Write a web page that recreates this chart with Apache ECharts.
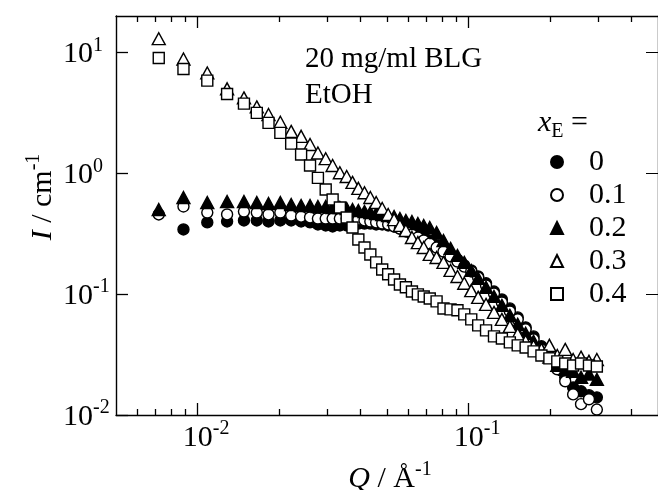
<!DOCTYPE html>
<html>
<head>
<meta charset="utf-8">
<script src="https://cdn.jsdelivr.net/npm/echarts@6/dist/echarts.min.js"></script>
<style>html,body{margin:0;padding:0;background:#fff;}#c{width:658px;height:490px;}</style>
</head>
<body>
<div id="c"></div>
<script>
// Scattering vector Q (1/Å)
const Q = [0.00719, 0.00887, 0.01086, 0.01285, 0.01483, 0.01654, 0.01827, 0.0202, 0.02215, 0.0241,
  0.026, 0.0278, 0.0297, 0.0315, 0.0335, 0.0355, 0.0373, 0.0392, 0.0413, 0.0434,
  0.0456, 0.048, 0.0505, 0.0531, 0.0558, 0.0587, 0.0618, 0.065, 0.0683, 0.0719,
  0.0762, 0.0808, 0.0858, 0.091, 0.0964, 0.1023, 0.1085, 0.116, 0.1241, 0.1327,
  0.142, 0.1518, 0.1624, 0.1737, 0.1857, 0.1987, 0.2125, 0.2273, 0.2431, 0.26,
  0.2781, 0.2974];
// Intensity I (1/cm) for each x_E
const I_0 = [null, 0.343, 0.392, 0.399, 0.407, 0.407, 0.399, 0.407, 0.407, 0.399,
  0.392, 0.377, 0.370, 0.363, 0.370, 0.370, 0.377, 0.384, 0.384, 0.384,
  0.377, 0.377, 0.370, 0.363, 0.349, 0.343, 0.330, 0.318, 0.300, 0.278,
  0.258, 0.234, 0.213, 0.193, 0.173, 0.157, 0.140, 0.123, 0.105, 0.0903,
  0.0762, 0.0642, 0.0531, 0.0447, 0.0370, 0.0306, 0.0248, 0.0205, 0.0169, 0.0157,
  0.0146, 0.0140];
const I_01 = [0.456, 0.531, 0.473, 0.456, 0.482, 0.473, 0.456, 0.473, 0.447, 0.438,
  0.431, 0.422, 0.422, 0.422, 0.422, 0.422, 0.422, 0.414, 0.407, 0.399,
  0.392, 0.384, 0.377, 0.363, 0.349, 0.330, 0.311, 0.294, 0.278, 0.262,
  0.243, 0.225, 0.205, 0.186, 0.169, 0.154, 0.137, 0.118, 0.101, 0.0853,
  0.0719, 0.0618, 0.0511, 0.0422, 0.0349, 0.0301, 0.0239, 0.0190, 0.0148, 0.0123,
  0.0135, 0.0111];
const I_02 = [0.501, 0.630, 0.573, 0.584, 0.584, 0.573, 0.562, 0.573, 0.551, 0.540,
  0.540, 0.531, 0.531, 0.521, 0.521, 0.511, 0.501, 0.492, 0.482, 0.473,
  0.464, 0.456, 0.447, 0.438, 0.422, 0.407, 0.399, 0.384, 0.370, 0.356,
  0.323, 0.278, 0.239, 0.209, 0.183, 0.157, 0.135, 0.114, 0.0957, 0.0807,
  0.0667, 0.0562, 0.0474, 0.0407, 0.0349, 0.0301, 0.0257, 0.0239, 0.0230, 0.0205,
  0.0218, 0.0197];
const I_03 = [12.98, 8.82, 6.76, 4.99, 4.20, 3.54, 3.06, 2.64, 2.22, 2.02,
  1.73, 1.47, 1.32, 1.16, 1.01, 0.94, 0.84, 0.75, 0.69, 0.63,
  0.573, 0.511, 0.456, 0.414, 0.370, 0.336, 0.294, 0.267, 0.243, 0.213,
  0.201, 0.183, 0.157, 0.140, 0.123, 0.107, 0.094, 0.0822, 0.0706, 0.0618,
  0.0541, 0.0465, 0.0407, 0.0370, 0.0349, 0.0377, 0.0311, 0.0349, 0.0288, 0.0301,
  0.0278, 0.0288];
const I_04 = [8.99, 7.29, 5.84, 4.53, 3.77, 3.16, 2.61, 2.16, 1.76, 1.43,
  1.16, 0.916, 0.733, 0.607, 0.521, 0.431, 0.356, 0.283, 0.243, 0.213,
  0.183, 0.160, 0.146, 0.132, 0.120, 0.114, 0.105, 0.0995, 0.0957, 0.0921,
  0.0871, 0.0760, 0.0748, 0.0735, 0.0680, 0.0618, 0.0551, 0.0501, 0.0447, 0.0430,
  0.0399, 0.0377, 0.0362, 0.0336, 0.0311, 0.0294, 0.0278, 0.0267, 0.0257, 0.0267,
  0.0257, 0.0252];
const seriesNames = ['0', '0.1', '0.2', '0.3', '0.4'];
const xRange = [0.005, 0.5];
const yRange = [0.01, 20];
const xMajorTicks = [0.01, 0.1];
const xMinorTicks = [0.006, 0.007, 0.008, 0.009, 0.02, 0.03, 0.04, 0.05, 0.06, 0.07, 0.08, 0.09, 0.2, 0.3, 0.4];
const yMajorTicks = [0.01, 0.1, 1, 10];

const FONT = "'Liberation Serif', 'Times New Roman', serif";
const L = Math.log10;
const seriesData = [I_0, I_01, I_02, I_03, I_04];
const styles = [
  {symbol: 'circle', size: 11, fill: '#000'},
  {symbol: 'circle', size: 11, fill: '#fff'},
  {symbol: 'triangle', size: [13, 12], fill: '#000'},
  {symbol: 'triangle', size: [13, 12], fill: '#fff'},
  {symbol: 'rect', size: 11, fill: '#fff'}
];

const supRich = {
  b: {fontFamily: FONT, fontSize: 30, color: '#000', lineHeight: 34, verticalAlign: 'bottom'},
  s: {fontFamily: FONT, fontSize: 20, color: '#000', lineHeight: 20, verticalAlign: 'top'},
  p: {width: 17}
};

function xAxisBase(pos, ticks, len, showLine, showLabel) {
  return {
    type: 'value', position: pos, min: L(xRange[0]), max: L(xRange[1]),
    axisLine: {show: showLine, onZero: false, lineStyle: {color: '#000', width: 1.4}},
    axisTick: {show: true, inside: true, length: len, customValues: ticks.map(L), lineStyle: {color: '#000', width: 1.3}},
    axisLabel: showLabel ? {
      show: true, customValues: xMajorTicks.map(L), margin: 4,
      formatter: v => '{p|}{b|10}{s|' + Math.round(v) + '}', rich: supRich
    } : {show: false},
    splitLine: {show: false}
  };
}

const option = {
  animation: false,
  backgroundColor: '#fff',
  grid: {left: 116, top: 16, right: -6, bottom: 75, containLabel: false},
  xAxis: [
    xAxisBase('bottom', xMajorTicks, 12, true, true),
    xAxisBase('bottom', xMinorTicks, 6, false, false),
    xAxisBase('top', xMajorTicks, 12, true, false),
    xAxisBase('top', xMinorTicks, 6, false, false)
  ],
  yAxis: [
    {
      type: 'value', position: 'left', min: L(yRange[0]), max: L(yRange[1]),
      axisLine: {show: true, onZero: false, lineStyle: {color: '#000', width: 1.4}},
      axisTick: {show: true, inside: true, length: 12, customValues: yMajorTicks.map(L), lineStyle: {color: '#000', width: 1.3}},
      axisLabel: {show: true, customValues: yMajorTicks.map(L), margin: 53, align: 'left',
        formatter: v => '{b|10}{s|' + Math.round(v) + '}', rich: supRich},
      splitLine: {show: false}
    },
    {
      type: 'value', position: 'right', min: L(yRange[0]), max: L(yRange[1]),
      axisLine: {show: true, onZero: false, lineStyle: {color: '#000', width: 1.4}},
      axisTick: {show: true, inside: true, length: 12, customValues: yMajorTicks.map(L)},
      axisLabel: {show: false}, splitLine: {show: false}
    }
  ],
  legend: {
    orient: 'vertical', left: 550, top: 147, padding: 0, itemGap: 3,
    itemWidth: 12, itemHeight: 12, selectedMode: false,
    data: seriesNames,
    textStyle: {fontFamily: FONT, fontSize: 30, color: '#000', padding: [0, 0, 0, 21]}
  },
  graphic: [
    {type: 'text', left: 305, top: 45, style: {text: '20 mg/ml BLG', font: '29px ' + FONT, fill: '#000'}},
    {type: 'text', left: 305, top: 81, style: {text: 'EtOH', font: '29px ' + FONT, fill: '#000'}},
    {type: 'text', left: 538, top: 108, style: {
      text: '{i|x}{sub|E}{n| =}',
      rich: {
        i: {fontFamily: FONT, fontStyle: 'italic', fontSize: 30, fill: '#000', lineHeight: 34, verticalAlign: 'top'},
        sub: {fontFamily: FONT, fontSize: 20, fill: '#000', lineHeight: 20, verticalAlign: 'bottom'},
        n: {fontFamily: FONT, fontSize: 30, fill: '#000', lineHeight: 34, verticalAlign: 'top'}
      }}},
    {type: 'text', x: 390, y: 477, style: {
      text: '{i|Q}{n| / Å}{s|-1}', align: 'center', verticalAlign: 'middle',
      rich: {
        i: {fontFamily: FONT, fontStyle: 'italic', fontSize: 30, fill: '#000', lineHeight: 34, verticalAlign: 'bottom'},
        n: {fontFamily: FONT, fontSize: 30, fill: '#000', lineHeight: 34, verticalAlign: 'bottom'},
        s: {fontFamily: FONT, fontSize: 20, fill: '#000', lineHeight: 20, verticalAlign: 'top'}
      }}},
    {type: 'text', x: 41, y: 197, rotation: Math.PI / 2, style: {
      text: '{i|I}{n| / cm}{s|-1}', align: 'center', verticalAlign: 'middle',
      rich: {
        i: {fontFamily: FONT, fontStyle: 'italic', fontSize: 30, fill: '#000', lineHeight: 34, verticalAlign: 'bottom'},
        n: {fontFamily: FONT, fontSize: 30, fill: '#000', lineHeight: 34, verticalAlign: 'bottom'},
        s: {fontFamily: FONT, fontSize: 20, fill: '#000', lineHeight: 20, verticalAlign: 'top'}
      }}}
  ],
  series: seriesNames.map((name, k) => ({
    name: name,
    type: 'scatter',
    xAxisIndex: 0, yAxisIndex: 0,
    symbol: styles[k].symbol,
    symbolSize: styles[k].size,
    itemStyle: {color: styles[k].fill, borderColor: '#000', borderWidth: 1.4, opacity: 1},
    emphasis: {disabled: true},
    data: Q.map((q, i) => seriesData[k][i] == null ? null : [L(q), L(seriesData[k][i])]).filter(d => d)
  }))
};

const chart = echarts.init(document.getElementById('c'), null, {renderer: 'canvas'});
chart.setOption(option);
</script>
</body>
</html>
